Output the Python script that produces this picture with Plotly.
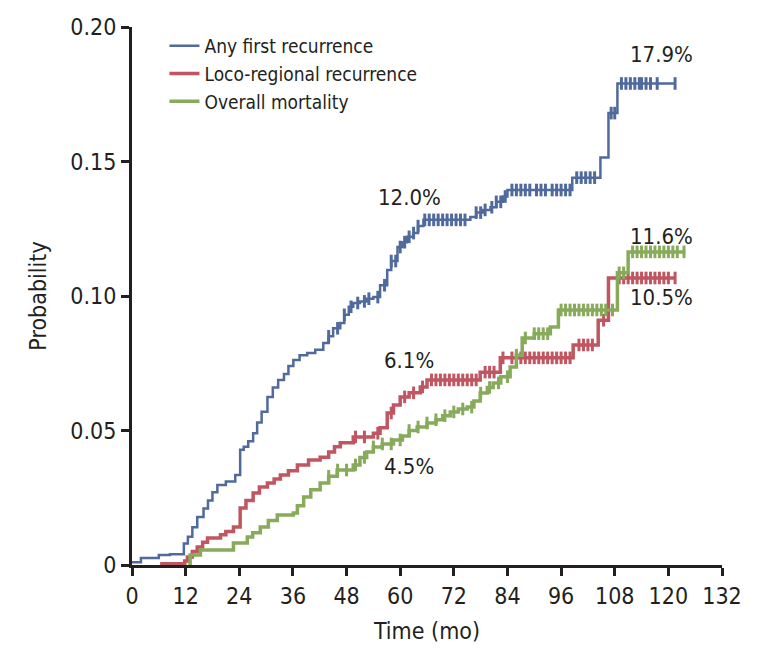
import numpy as np
import plotly.graph_objects as go

# ---------------- data ----------------
x_ticks = [0, 12, 24, 36, 48, 60, 72, 84, 96, 108, 120, 132]
y_tickvals = [0, 0.05, 0.10, 0.15, 0.20]
y_ticktext = ["0", "0.05", "0.10", "0.15", "0.20"]

series_names = ["Any first recurrence", "Loco-regional recurrence", "Overall mortality"]

any_t = [0, 2, 6, 8.5, 11.6, 12.5, 13.5, 14.6, 16, 17, 18, 19.1, 21, 23.1, 24.2, 25, 26,
         27.1, 28, 29, 30.3, 31.5, 32.7, 34, 35, 36.1, 37.5, 39.2, 41, 42.8, 44, 45, 46.6,
         47.5, 48.5, 49.5, 51, 52.5, 54, 55.5, 57.1, 58, 59.4, 60.5, 61.5, 62.9, 64, 65.2,
         75.7, 77, 78.5, 80.2, 81.5, 83, 84, 98.5, 104.8, 106.6, 108.6, 121.5]
any_p = [0.001, 0.0026, 0.0037, 0.004, 0.008, 0.0105, 0.014, 0.0178, 0.021, 0.024, 0.027,
         0.0297, 0.031, 0.0335, 0.0428, 0.044, 0.046, 0.049, 0.053, 0.057, 0.0625, 0.066,
         0.0688, 0.071, 0.074, 0.0762, 0.078, 0.0788, 0.080, 0.0825, 0.085, 0.088, 0.090,
         0.093, 0.096, 0.0974, 0.098, 0.099, 0.0996, 0.104, 0.1097, 0.113, 0.1182, 0.120,
         0.122, 0.1234, 0.126, 0.1283, 0.1294, 0.131, 0.132, 0.133, 0.135, 0.137, 0.1394,
         0.144, 0.1515, 0.168, 0.179, 0.179]
any_cens = [44, 46, 47.5, 49, 50.5, 52, 53, 55, 56.5, 58, 59, 60, 61, 62, 63, 64, 65.5, 66.5,
            67.5, 68.5, 69.5, 70.5, 71.5, 72.5, 73.5, 74.5, 77, 78, 79, 80.5, 81.5, 82.5, 83.5,
            85, 86, 87, 88, 89, 90.5, 91.5, 92.5, 94, 95, 96, 97, 98, 99.5, 100.5, 101.5,
            102.5, 103.5, 107.2, 108, 109.5, 110.5, 111.5, 112.5, 113.5, 114, 115, 116, 117.5,
            121.5]

loco_t = [6.3, 11.8, 12.4, 13.5, 14.6, 15.8, 16.9, 19.8, 21, 22.7, 24.2, 25.5, 27.1, 28.5,
          30.3, 31.8, 33.2, 35, 37, 39.5, 42.1, 44, 45.3, 46.6, 49.5, 54, 55.5, 57.1, 58.5,
          60, 62, 64.5, 66, 77.9, 82.4, 98.7, 104.3, 106.6, 121.5]
loco_p = [0.0005, 0.0015, 0.003, 0.005, 0.0067, 0.0085, 0.010, 0.0112, 0.0125, 0.0141,
          0.0212, 0.024, 0.0268, 0.029, 0.0305, 0.032, 0.0335, 0.035, 0.0372, 0.039, 0.0401,
          0.042, 0.044, 0.0454, 0.0476, 0.049, 0.051, 0.0565, 0.0595, 0.0625, 0.064, 0.0662,
          0.0688, 0.0717, 0.077, 0.0818, 0.091, 0.1067, 0.1067]
loco_cens = [50, 52, 55, 58, 61, 63, 65, 67, 68, 69, 70, 71, 72, 73, 74, 75, 76, 77, 79, 80,
             81, 83, 85, 86, 87, 88, 89, 90, 91, 92, 93, 94, 95, 96, 97, 98, 100, 101, 102,
             103, 105.5, 109, 110, 111, 112, 113, 114, 115, 116, 117, 118, 119, 120, 121.5]

mort_t = [12.6, 13, 15.3, 22.7, 25.8, 27, 28.7, 30.5, 32.5, 36.1, 37, 38.4, 40, 42.1, 44,
          45.9, 49.5, 51, 52.5, 54, 56, 58.5, 60.5, 62, 63.8, 66, 68, 69.5, 71.2, 73, 75,
          76.5, 77.9, 79.5, 80.8, 82.5, 84.6, 86, 87.3, 90, 93.6, 95.4, 108.6, 111, 123.8]
mort_p = [0.0005, 0.0037, 0.0056, 0.0082, 0.0104, 0.012, 0.0141, 0.0165, 0.0186, 0.0193,
          0.022, 0.0253, 0.028, 0.0305, 0.033, 0.0353, 0.0372, 0.040, 0.042, 0.0439, 0.045,
          0.0465, 0.048, 0.050, 0.0513, 0.0528, 0.054, 0.0555, 0.0569, 0.058, 0.0587, 0.061,
          0.0639, 0.066, 0.0677, 0.070, 0.0736, 0.078, 0.0844, 0.086, 0.0885, 0.0948,
          0.1086, 0.1164, 0.1164]
mort_cens = [44, 46, 48, 50, 52, 54, 56, 58, 60, 62, 64, 66, 68, 70, 72, 74, 76, 78, 80, 82,
             84, 86, 88, 90, 91, 92, 93, 96, 97, 98, 99, 100, 101, 102, 103, 104, 105, 106,
             107.5, 109, 110, 112, 113, 114, 115, 116, 117, 118, 119, 120, 121, 122, 123.5]

label_text = ["17.9%", "12.0%", "6.1%", "4.5%", "11.6%", "10.5%"]
label_x = [118.5, 62, 62, 62, 118.5, 118.5]
label_y = [0.1896, 0.1368, 0.0762, 0.0368, 0.1222, 0.0995]

colors = ["#506a9c", "#bf5661", "#87aa5b"]
widths = [2.5, 3.5, 3.5]
FONT = "Liberation Sans Narrow, DejaVu Sans Condensed, Roboto Condensed, Arial Narrow, sans-serif"
TXT = "#231f20"


def step_value(ts, ps, t):
    idx = np.searchsorted(np.array(ts), t, side="right") - 1
    idx = max(0, min(idx, len(ps) - 1))
    return ps[idx]


fig = go.Figure()
all_series = [(any_t, any_p, any_cens), (loco_t, loco_p, loco_cens), (mort_t, mort_p, mort_cens)]
for name, (ts, ps, cens), col, w in zip(series_names, all_series, colors, widths):
    assert len(ts) == len(ps)
    fig.add_trace(go.Scatter(x=ts, y=ps, mode="lines", name=name,
                             line=dict(color=col, width=w, shape="hv")))
    fig.add_trace(go.Scatter(x=cens, y=[step_value(ts, ps, c) for c in cens], mode="markers",
                             showlegend=False, hoverinfo="skip",
                             marker=dict(symbol="line-ns", size=9,
                                         line=dict(color=col, width=3))))

for t, xx, yy in zip(label_text, label_x, label_y):
    fig.add_annotation(x=xx, y=yy, text=t, showarrow=False, xanchor="center", yanchor="middle",
                       font=dict(family=FONT, size=22, color=TXT))

# page has an 8px body margin: plot area aimed at x 131.7-721.7, y 27-565 on screen
fig.update_layout(
    width=765, height=663,
    margin=dict(l=124, r=51, t=19, b=106),
    paper_bgcolor="white", plot_bgcolor="white",
    font=dict(family=FONT, size=20, color=TXT),
    legend=dict(x=0.055, y=1.0, xanchor="left", yanchor="top",
                font=dict(family=FONT, size=19, color=TXT),
                bgcolor="rgba(0,0,0,0)", tracegroupgap=0),
    showlegend=True,
)
fig.update_xaxes(range=[0, 132], tickvals=x_ticks, ticktext=[str(v) for v in x_ticks],
                 automargin=False,
                 showline=True, linewidth=3, linecolor=TXT, ticks="outside", ticklen=8,
                 tickwidth=3, tickcolor=TXT, showgrid=False, zeroline=False,
                 tickfont=dict(family=FONT, size=23, color=TXT),
                 title=dict(text="Time (mo)", font=dict(family=FONT, size=23, color=TXT),
                            standoff=16))
fig.update_yaxes(range=[0, 0.20], tickvals=y_tickvals, ticktext=y_ticktext,
                 automargin=False,
                 showline=True, linewidth=3, linecolor=TXT, ticks="outside", ticklen=8,
                 tickwidth=3, tickcolor=TXT, showgrid=False, zeroline=False,
                 tickfont=dict(family=FONT, size=23, color=TXT),
                 title=dict(text="Probability", font=dict(family=FONT, size=23, color=TXT),
                            standoff=18))

fig.write_html("out.html")
